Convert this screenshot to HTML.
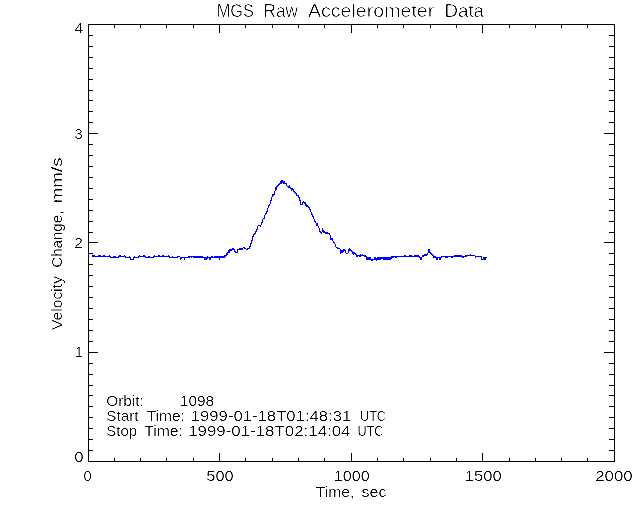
<!DOCTYPE html>
<html lang="en"><head><meta charset="utf-8"><title>MGS Raw Accelerometer Data</title>
<style>
html,body{margin:0;padding:0;background:#fff;}
body{width:640px;height:512px;overflow:hidden;}
svg{display:block;}
text{font-family:"Liberation Sans",sans-serif;fill:#000;stroke:#fff;stroke-width:0.15px;paint-order:fill stroke;}
text.title{stroke-width:0.3px;}
</style></head><body>
<svg width="640" height="512" viewBox="0 0 640 512">
<defs><filter id="crisp" x="0" y="0" width="640" height="512" filterUnits="userSpaceOnUse" color-interpolation-filters="sRGB"><feComponentTransfer><feFuncR type="linear" slope="2.5" intercept="-0.75"/><feFuncG type="linear" slope="2.5" intercept="-0.75"/><feFuncB type="linear" slope="2.5" intercept="-0.75"/></feComponentTransfer></filter></defs>
<g filter="url(#crisp)">
<rect width="640" height="512" fill="#fff"/>
<text y="17" font-size="18.6" class="title"><tspan x="216.66" textLength="37.12" lengthAdjust="spacingAndGlyphs">MGS</tspan> <tspan x="263.58" textLength="34.38" lengthAdjust="spacingAndGlyphs">Raw</tspan> <tspan x="307.95" textLength="126.33" lengthAdjust="spacingAndGlyphs">Accelerometer</tspan> <tspan x="444.45" textLength="39.59" lengthAdjust="spacingAndGlyphs">Data</tspan></text>
<text y="481" font-size="15.0"><tspan x="83.41" textLength="8.15" lengthAdjust="spacingAndGlyphs">0</tspan></text>
<text y="481" font-size="15.0"><tspan x="206.35" textLength="27.28" lengthAdjust="spacingAndGlyphs">500</tspan></text>
<text y="481" font-size="15.0"><tspan x="333.79" textLength="35.85" lengthAdjust="spacingAndGlyphs">1000</tspan></text>
<text y="481" font-size="15.0"><tspan x="464.76" textLength="36.9" lengthAdjust="spacingAndGlyphs">1500</tspan></text>
<text y="481" font-size="15.0"><tspan x="595.16" textLength="37.51" lengthAdjust="spacingAndGlyphs">2000</tspan></text>
<text y="462" font-size="15.0"><tspan x="74.33" textLength="9.32" lengthAdjust="spacingAndGlyphs">0</tspan></text>
<text y="357" font-size="15.0"><tspan x="74.96" textLength="7.72" lengthAdjust="spacingAndGlyphs">1</tspan></text>
<text y="248" font-size="15.0"><tspan x="74.23" textLength="8.56" lengthAdjust="spacingAndGlyphs">2</tspan></text>
<text y="139" font-size="15.0"><tspan x="74.45" textLength="8.2" lengthAdjust="spacingAndGlyphs">3</tspan></text>
<text y="33" font-size="15.0"><tspan x="74.64" textLength="8.81" lengthAdjust="spacingAndGlyphs">4</tspan></text>
<text y="497" font-size="15.0"><tspan x="315.65" textLength="38.78" lengthAdjust="spacingAndGlyphs">Time,</tspan> <tspan x="361.56" textLength="24.9" lengthAdjust="spacingAndGlyphs">sec</tspan></text>
<text y="0" font-size="15.0" transform="translate(61.5,330) rotate(-90)"><tspan x="-0.08" textLength="54.1" lengthAdjust="spacingAndGlyphs">Velocity</tspan> <tspan x="62.24" textLength="57.13" lengthAdjust="spacingAndGlyphs">Change,</tspan> <tspan x="126.73" textLength="45.9" lengthAdjust="spacingAndGlyphs">mm/s</tspan></text>
<text y="406" font-size="15.0"><tspan x="106.27" textLength="37.61" lengthAdjust="spacingAndGlyphs">Orbit:</tspan> <tspan x="179.84" textLength="34.35" lengthAdjust="spacingAndGlyphs">1098</tspan></text>
<text y="421" font-size="15.0"><tspan x="106.31" textLength="32.29" lengthAdjust="spacingAndGlyphs">Start</tspan> <tspan x="146.65" textLength="38.25" lengthAdjust="spacingAndGlyphs">Time:</tspan> <tspan x="190.75" textLength="160.57" lengthAdjust="spacingAndGlyphs">1999-01-18T01:48:31</tspan> <tspan x="360.02" textLength="25.99" lengthAdjust="spacingAndGlyphs">UTC</tspan></text>
<text y="436" font-size="15.0"><tspan x="106.33" textLength="30.81" lengthAdjust="spacingAndGlyphs">Stop</tspan> <tspan x="144.15" textLength="38.78" lengthAdjust="spacingAndGlyphs">Time:</tspan> <tspan x="188.23" textLength="162.25" lengthAdjust="spacingAndGlyphs">1999-01-18T02:14:04</tspan> <tspan x="357.52" textLength="25.99" lengthAdjust="spacingAndGlyphs">UTC</tspan></text>
</g>
<path d="M88 24h527v1h-527zM88 461h527v1h-527zM88 24h1v438h-1zM614 24h1v438h-1zM114 458h1v4h-1zM114 24h1v4h-1zM140 458h1v4h-1zM140 24h1v4h-1zM166 458h1v4h-1zM166 24h1v4h-1zM193 458h1v4h-1zM193 24h1v4h-1zM219 453h1v9h-1zM219 24h1v9h-1zM245 458h1v4h-1zM245 24h1v4h-1zM272 458h1v4h-1zM272 24h1v4h-1zM298 458h1v4h-1zM298 24h1v4h-1zM324 458h1v4h-1zM324 24h1v4h-1zM351 453h1v9h-1zM351 24h1v9h-1zM377 458h1v4h-1zM377 24h1v4h-1zM403 458h1v4h-1zM403 24h1v4h-1zM430 458h1v4h-1zM430 24h1v4h-1zM456 458h1v4h-1zM456 24h1v4h-1zM482 453h1v9h-1zM482 24h1v9h-1zM509 458h1v4h-1zM509 24h1v4h-1zM535 458h1v4h-1zM535 24h1v4h-1zM561 458h1v4h-1zM561 24h1v4h-1zM587 458h1v4h-1zM587 24h1v4h-1zM88 450h5v1h-5zM609 450h6v1h-6zM88 439h5v1h-5zM609 439h6v1h-6zM88 428h5v1h-5zM609 428h6v1h-6zM88 417h5v1h-5zM609 417h6v1h-6zM88 406h5v1h-5zM609 406h6v1h-6zM88 395h5v1h-5zM609 395h6v1h-6zM88 385h5v1h-5zM609 385h6v1h-6zM88 374h5v1h-5zM609 374h6v1h-6zM88 363h5v1h-5zM609 363h6v1h-6zM88 352h10v1h-10zM604 352h11v1h-11zM88 341h5v1h-5zM609 341h6v1h-6zM88 330h5v1h-5zM609 330h6v1h-6zM88 319h5v1h-5zM609 319h6v1h-6zM88 308h5v1h-5zM609 308h6v1h-6zM88 297h5v1h-5zM609 297h6v1h-6zM88 286h5v1h-5zM609 286h6v1h-6zM88 275h5v1h-5zM609 275h6v1h-6zM88 264h5v1h-5zM609 264h6v1h-6zM88 253h5v1h-5zM609 253h6v1h-6zM88 242h10v1h-10zM604 242h11v1h-11zM88 232h5v1h-5zM609 232h6v1h-6zM88 221h5v1h-5zM609 221h6v1h-6zM88 210h5v1h-5zM609 210h6v1h-6zM88 199h5v1h-5zM609 199h6v1h-6zM88 188h5v1h-5zM609 188h6v1h-6zM88 177h5v1h-5zM609 177h6v1h-6zM88 166h5v1h-5zM609 166h6v1h-6zM88 155h5v1h-5zM609 155h6v1h-6zM88 144h5v1h-5zM609 144h6v1h-6zM88 133h10v1h-10zM604 133h11v1h-11zM88 122h5v1h-5zM609 122h6v1h-6zM88 111h5v1h-5zM609 111h6v1h-6zM88 100h5v1h-5zM609 100h6v1h-6zM88 90h5v1h-5zM609 90h6v1h-6zM88 79h5v1h-5zM609 79h6v1h-6zM88 68h5v1h-5zM609 68h6v1h-6zM88 57h5v1h-5zM609 57h6v1h-6zM88 46h5v1h-5zM609 46h6v1h-6zM88 35h5v1h-5zM609 35h6v1h-6z" fill="#000" shape-rendering="crispEdges"/>
<path d="M281 180h2v1h-2zM280 181h5v1h-5zM280 182h5v1h-5zM279 183h3v1h-3zM283 183h4v1h-4zM278 184h2v1h-2zM286 184h1v1h-1zM277 185h2v1h-2zM286 185h1v1h-1zM289 185h1v1h-1zM276 186h2v1h-2zM287 186h3v1h-3zM275 187h2v1h-2zM288 187h3v1h-3zM275 188h2v1h-2zM290 188h3v1h-3zM275 189h2v1h-2zM291 189h3v1h-3zM275 190h1v1h-1zM291 190h1v1h-1zM293 190h1v1h-1zM274 191h1v1h-1zM293 191h2v1h-2zM274 192h1v1h-1zM294 192h2v1h-2zM274 193h1v1h-1zM295 193h2v1h-2zM272 194h3v1h-3zM296 194h1v1h-1zM272 195h2v1h-2zM296 195h3v1h-3zM272 196h1v1h-1zM298 196h1v1h-1zM271 197h1v1h-1zM298 197h2v1h-2zM271 198h1v1h-1zM299 198h1v1h-1zM271 199h1v1h-1zM299 199h1v1h-1zM270 200h2v1h-2zM299 200h2v1h-2zM270 201h1v1h-1zM300 201h1v1h-1zM303 201h1v1h-1zM270 202h1v1h-1zM300 202h1v1h-1zM302 202h4v1h-4zM270 203h1v1h-1zM300 203h1v1h-1zM302 203h1v1h-1zM304 203h2v1h-2zM269 204h1v1h-1zM300 204h3v1h-3zM305 204h2v1h-2zM268 205h2v1h-2zM305 205h3v1h-3zM268 206h1v1h-1zM306 206h3v1h-3zM268 207h1v1h-1zM308 207h2v1h-2zM267 208h1v1h-1zM309 208h1v1h-1zM267 209h1v1h-1zM309 209h2v1h-2zM267 210h1v1h-1zM310 210h1v1h-1zM266 211h2v1h-2zM310 211h1v1h-1zM266 212h1v1h-1zM311 212h1v1h-1zM265 213h2v1h-2zM311 213h1v1h-1zM265 214h1v1h-1zM311 214h2v1h-2zM264 215h1v1h-1zM312 215h1v1h-1zM264 216h1v1h-1zM312 216h2v1h-2zM264 217h1v1h-1zM313 217h1v1h-1zM263 218h2v1h-2zM313 218h1v1h-1zM262 219h1v1h-1zM314 219h1v1h-1zM262 220h1v1h-1zM314 220h1v1h-1zM262 221h1v1h-1zM314 221h2v1h-2zM261 222h2v1h-2zM315 222h1v1h-1zM261 223h1v1h-1zM316 223h2v1h-2zM261 224h1v1h-1zM316 224h2v1h-2zM258 225h3v1h-3zM316 225h2v1h-2zM257 226h1v1h-1zM260 226h1v1h-1zM318 226h1v1h-1zM257 227h1v1h-1zM318 227h1v1h-1zM257 228h1v1h-1zM319 228h1v1h-1zM322 228h1v1h-1zM256 229h2v1h-2zM319 229h1v1h-1zM322 229h1v1h-1zM256 230h1v1h-1zM319 230h1v1h-1zM322 230h2v1h-2zM255 231h2v1h-2zM319 231h2v1h-2zM322 231h3v1h-3zM255 232h1v1h-1zM320 232h2v1h-2zM323 232h5v1h-5zM254 233h2v1h-2zM321 233h1v1h-1zM325 233h5v1h-5zM253 234h2v1h-2zM329 234h1v1h-1zM253 235h1v1h-1zM330 235h1v1h-1zM252 236h2v1h-2zM330 236h1v1h-1zM252 237h1v1h-1zM330 237h1v1h-1zM252 238h1v1h-1zM330 238h3v1h-3zM252 239h1v1h-1zM330 239h3v1h-3zM251 240h2v1h-2zM332 240h1v1h-1zM251 241h1v1h-1zM333 241h1v1h-1zM251 242h1v1h-1zM333 242h2v1h-2zM250 243h2v1h-2zM334 243h1v1h-1zM250 244h1v1h-1zM335 244h1v1h-1zM250 245h1v1h-1zM335 245h1v1h-1zM249 246h2v1h-2zM335 246h1v1h-1zM243 247h2v1h-2zM249 247h1v1h-1zM336 247h2v1h-2zM232 248h2v1h-2zM239 248h4v1h-4zM244 248h2v1h-2zM247 248h3v1h-3zM337 248h3v1h-3zM349 248h1v1h-1zM229 249h6v1h-6zM237 249h6v1h-6zM246 249h2v1h-2zM340 249h1v1h-1zM343 249h2v1h-2zM348 249h3v1h-3zM428 249h2v1h-2zM228 250h4v1h-4zM234 250h1v1h-1zM237 250h1v1h-1zM340 250h6v1h-6zM348 250h4v1h-4zM428 250h2v1h-2zM228 251h2v1h-2zM234 251h2v1h-2zM237 251h1v1h-1zM340 251h4v1h-4zM345 251h1v1h-1zM348 251h1v1h-1zM351 251h2v1h-2zM428 251h2v1h-2zM227 252h3v1h-3zM235 252h3v1h-3zM340 252h3v1h-3zM345 252h1v1h-1zM348 252h1v1h-1zM352 252h3v1h-3zM428 252h3v1h-3zM226 253h2v1h-2zM340 253h1v1h-1zM346 253h2v1h-2zM352 253h4v1h-4zM427 253h1v1h-1zM430 253h2v1h-2zM226 254h2v1h-2zM353 254h1v1h-1zM355 254h2v1h-2zM360 254h1v1h-1zM362 254h1v1h-1zM424 254h4v1h-4zM431 254h2v1h-2zM470 254h1v1h-1zM92 255h3v1h-3zM98 255h3v1h-3zM103 255h2v1h-2zM109 255h1v1h-1zM119 255h2v1h-2zM124 255h1v1h-1zM139 255h1v1h-1zM143 255h2v1h-2zM154 255h1v1h-1zM158 255h2v1h-2zM162 255h2v1h-2zM168 255h1v1h-1zM224 255h3v1h-3zM356 255h10v1h-10zM404 255h2v1h-2zM409 255h3v1h-3zM414 255h5v1h-5zM422 255h5v1h-5zM432 255h2v1h-2zM454 255h8v1h-8zM465 255h10v1h-10zM92 256h19v1h-19zM113 256h3v1h-3zM118 256h8v1h-8zM129 256h1v1h-1zM134 256h1v1h-1zM138 256h8v1h-8zM148 256h2v1h-2zM153 256h17v1h-17zM172 256h1v1h-1zM177 256h3v1h-3zM188 256h15v1h-15zM207 256h1v1h-1zM211 256h2v1h-2zM214 256h12v1h-12zM356 256h2v1h-2zM359 256h2v1h-2zM364 256h3v1h-3zM391 256h29v1h-29zM422 256h2v1h-2zM433 256h3v1h-3zM441 256h26v1h-26zM475 256h7v1h-7zM110 257h9v1h-9zM125 257h6v1h-6zM133 257h6v1h-6zM145 257h9v1h-9zM169 257h9v1h-9zM180 257h10v1h-10zM191 257h1v1h-1zM193 257h32v1h-32zM366 257h5v1h-5zM374 257h2v1h-2zM377 257h17v1h-17zM395 257h2v1h-2zM419 257h3v1h-3zM433 257h9v1h-9zM445 257h3v1h-3zM451 257h2v1h-2zM462 257h2v1h-2zM475 257h1v1h-1zM481 257h1v1h-1zM483 257h4v1h-4zM130 258h1v1h-1zM133 258h1v1h-1zM180 258h2v1h-2zM184 258h1v1h-1zM204 258h4v1h-4zM209 258h2v1h-2zM219 258h1v1h-1zM366 258h5v1h-5zM374 258h18v1h-18zM420 258h2v1h-2zM436 258h2v1h-2zM439 258h2v1h-2zM481 258h1v1h-1zM483 258h3v1h-3zM130 259h4v1h-4zM180 259h1v1h-1zM184 259h1v1h-1zM204 259h3v1h-3zM209 259h2v1h-2zM219 259h1v1h-1zM366 259h15v1h-15zM383 259h8v1h-8zM420 259h2v1h-2zM436 259h2v1h-2zM439 259h2v1h-2zM481 259h5v1h-5zM371 260h2v1h-2zM376 260h1v1h-1z" fill="#00f" shape-rendering="crispEdges"/>
</svg>
</body></html>
